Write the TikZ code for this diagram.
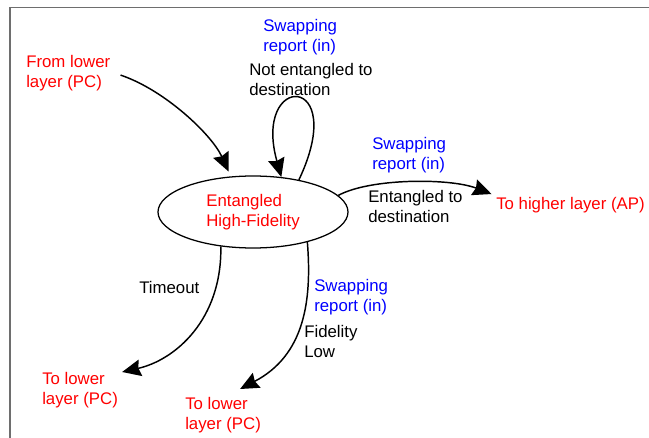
\documentclass[tikz,border=0pt]{standalone}
\usepackage{fontspec}
\setmainfont{Liberation Sans}
\usetikzlibrary{arrows.meta,calc,shapes.geometric}
\definecolor{layerred}{RGB}{255,0,0}
\definecolor{eventblue}{RGB}{0,0,255}
\definecolor{framegray}{RGB}{110,110,110}

\begin{document}
\begin{tikzpicture}[x=0.75pt,y=-0.75pt,
  lbl/.style={anchor=north west, inner sep=1.5pt, align=left,
    font=\fontsize{12.6}{15}\selectfont},
  layerlbl/.style={lbl, text=layerred},
  eventlbl/.style={lbl, text=eventblue},
  condlbl/.style={lbl, text=black},
  statenode/.style={ellipse, draw, line width=0.95pt, minimum width=142.5pt,
    minimum height=54pt, inner sep=0pt, align=left, text=layerred,
    font=\fontsize{12.6}{15}\selectfont},
  trans/.style={line width=1.1pt, -{Stealth[length=14pt,width=12.5pt,inset=1.5pt]}},
  framerule/.style={draw=framegray, line width=1.2pt}
]
\useasboundingbox (0,0) rectangle (649,438);

% frame edges
\draw[framerule] (649,7.5) -- (10,7.5) -- (10,438);

% state
\node[statenode] (E) at (253,212) {Entangled\\High-Fidelity};

% outer layers
\node[layerlbl] (from) at (24,53) {From lower\\layer (PC)};
\node[layerlbl] (th)   at (494,195) {To higher layer (AP)};
\node[layerlbl] (tl1)  at (40,370) {To lower\\layer (PC)};
\node[layerlbl] (tl2)  at (183,395) {To lower\\layer (PC)};

% events and conditions
\node[eventlbl] (swTop) at (261,17)  {Swapping\\report (in)};
\node[condlbl]  (notEnt) at (247,61) {Not entangled to\\destination};
\node[eventlbl] (swR)   at (370,135) {Swapping\\report (in)};
\node[condlbl]  (entTo) at (366,188) {Entangled to\\destination};
\node[condlbl]  (tmo)   at (137,279) {Timeout};
\node[eventlbl] (swB)   at (312,277) {Swapping\\report (in)};
\node[condlbl]  (fid)   at (302,323) {Fidelity\\Low};

% transitions
\draw[trans, shorten >=4pt] ($(from.east)+(8,2)$)
  .. controls (165,90) and (212,135) .. (E.122);
\draw[trans] (E.35) .. controls (350,72) and (252,72) .. (E.51);
\draw[trans, shorten >=2pt] (E.11)
  .. controls (370,178) and (450,178) .. (th.north west);
\draw[trans] (E.227)
  .. controls (222,320) and (175,360) .. ($(tl1.north east)+(2,2)$);
\draw[trans] (E.331)
  .. controls (312,300) and (305,355) .. ($(tl2.north)+(17,-6)$);
\end{tikzpicture}
\end{document}
